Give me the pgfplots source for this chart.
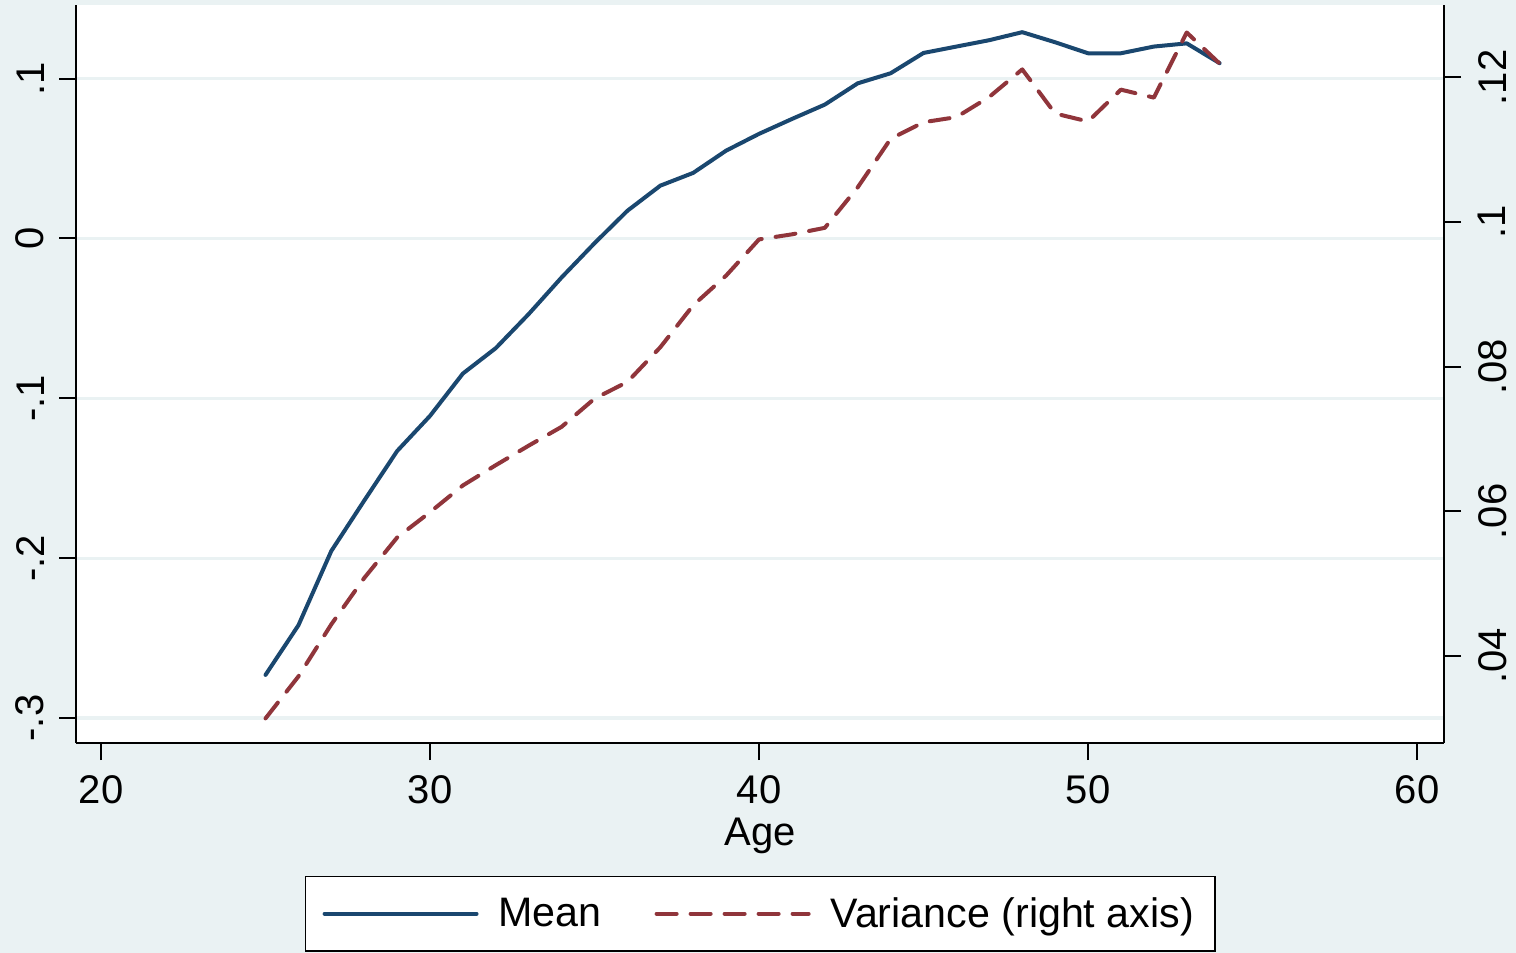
\documentclass[border=0pt]{standalone}
\usepackage{pgfplots}
\pgfplotsset{compat=1.18}
\usepackage{fontspec}
\setmainfont{Liberation Sans}
\definecolor{bgcol}{HTML}{EAF2F3}
\definecolor{navy}{HTML}{1A476F}
\definecolor{maroon}{HTML}{90353B}
\pgfplotstableread{
age mean
25 -0.273
26 -0.242
27 -0.1955
28 -0.164
29 -0.133
30 -0.111
31 -0.0845
32 -0.0686
33 -0.0473
34 -0.0244
35 -0.003
36 0.0173
37 0.033
38 0.041
39 0.0549
40 0.0654
41 0.0747
42 0.0837
43 0.0970
44 0.1033
45 0.116
46 0.120
47 0.124
48 0.129
49 0.1227
50 0.1158
51 0.1158
52 0.120
53 0.122
54 0.1096
}\meantab
\pgfplotstableread{
age var
25 0.0314
26 0.0372
27 0.0444
28 0.0508
29 0.0564
30 0.0599
31 0.0636
32 0.0664
33 0.0691
34 0.0717
35 0.0756
36 0.0779
37 0.0827
38 0.0885
39 0.0926
40 0.0976
41 0.0983
42 0.0992
43 0.1048
44 0.1115
45 0.1138
46 0.1145
47 0.1173
48 0.1211
49 0.1150
50 0.1139
51 0.1183
52 0.1172
53 0.1262
54 0.1219
}\vartab
\begin{document}
\begin{tikzpicture}
\fill[bgcol] (-38.25pt,-105pt) rectangle (719.75pt,371.5pt);
\useasboundingbox (-38.25pt,-105pt) rectangle (719.75pt,371.5pt);
\pgfplotsset{
  common/.style={
    scale only axis, width=683.75pt, height=369pt,
    xmin=19.255, xmax=60.82,
    tick align=outside, major tick length=8.5pt,
    tick style={black, line width=1pt},
    axis line style={black, line width=1pt, -},
    tick label style={font=\fontsize{20}{24}\selectfont, inner sep=0pt},
    /pgf/number format/assume math mode=true,
  }
}
\begin{axis}[common,
  axis x line*=bottom, axis y line*=left,
  axis background/.style={fill=white},
  ymin=-0.3156, ymax=0.146,
  xtick={20,30,40,50,60},
  ytick={-0.3,-0.2,-0.1,0,0.1},
  yticklabels={-.3,-.2,-.1,0,.1},
  yticklabel style={xshift=-7.5pt, rotate=90, anchor=south},
  xticklabel style={yshift=-7.5pt},
  ymajorgrids, major grid style={bgcol, line width=1.6pt},
  xlabel={Age},
  xlabel style={font=\fontsize{20}{24}\selectfont, at={(axis description cs:0.5,0)}, anchor=base, yshift=-51pt},
  legend style={at={(axis description cs:0.5,-0.1802)}, anchor=north,
    draw=black, line width=0.75pt, fill=white,
    font=\fontsize{20.6}{24}\selectfont,
    inner xsep=8.5pt, inner ysep=8.3pt,
    legend columns=2,
    /tikz/every odd column/.append style={column sep=8pt},
    /tikz/every even column/.append style={column sep=24.5pt}},
  legend cell align=left,
  legend image code/.code={\draw[#1] (0pt,0pt) -- (76pt,0pt);},
]
\addplot[navy, line width=2pt, line cap=round, line join=round] table[x=age,y=mean] {\meantab};
\addlegendentry{Mean}
\addlegendimage{maroon, line width=2pt, line cap=round, dash pattern=on 10pt off 7pt}
\addlegendentry{Variance (right axis)\hspace{8pt}}
\end{axis}
\begin{axis}[common,
  axis x line=none, axis y line*=right,
  ymin=0.028, ymax=0.13,
  ytick={0.04,0.06,0.08,0.1,0.12},
  yticklabels={.04,.06,.08,.1,.12},
  yticklabel style={xshift=8.5pt, rotate=90, anchor=north},
]
\addplot[maroon, line width=2pt, line cap=round, line join=round, dash pattern=on 10pt off 7pt] table[x=age,y=var] {\vartab};
\end{axis}
\end{tikzpicture}
\end{document}
